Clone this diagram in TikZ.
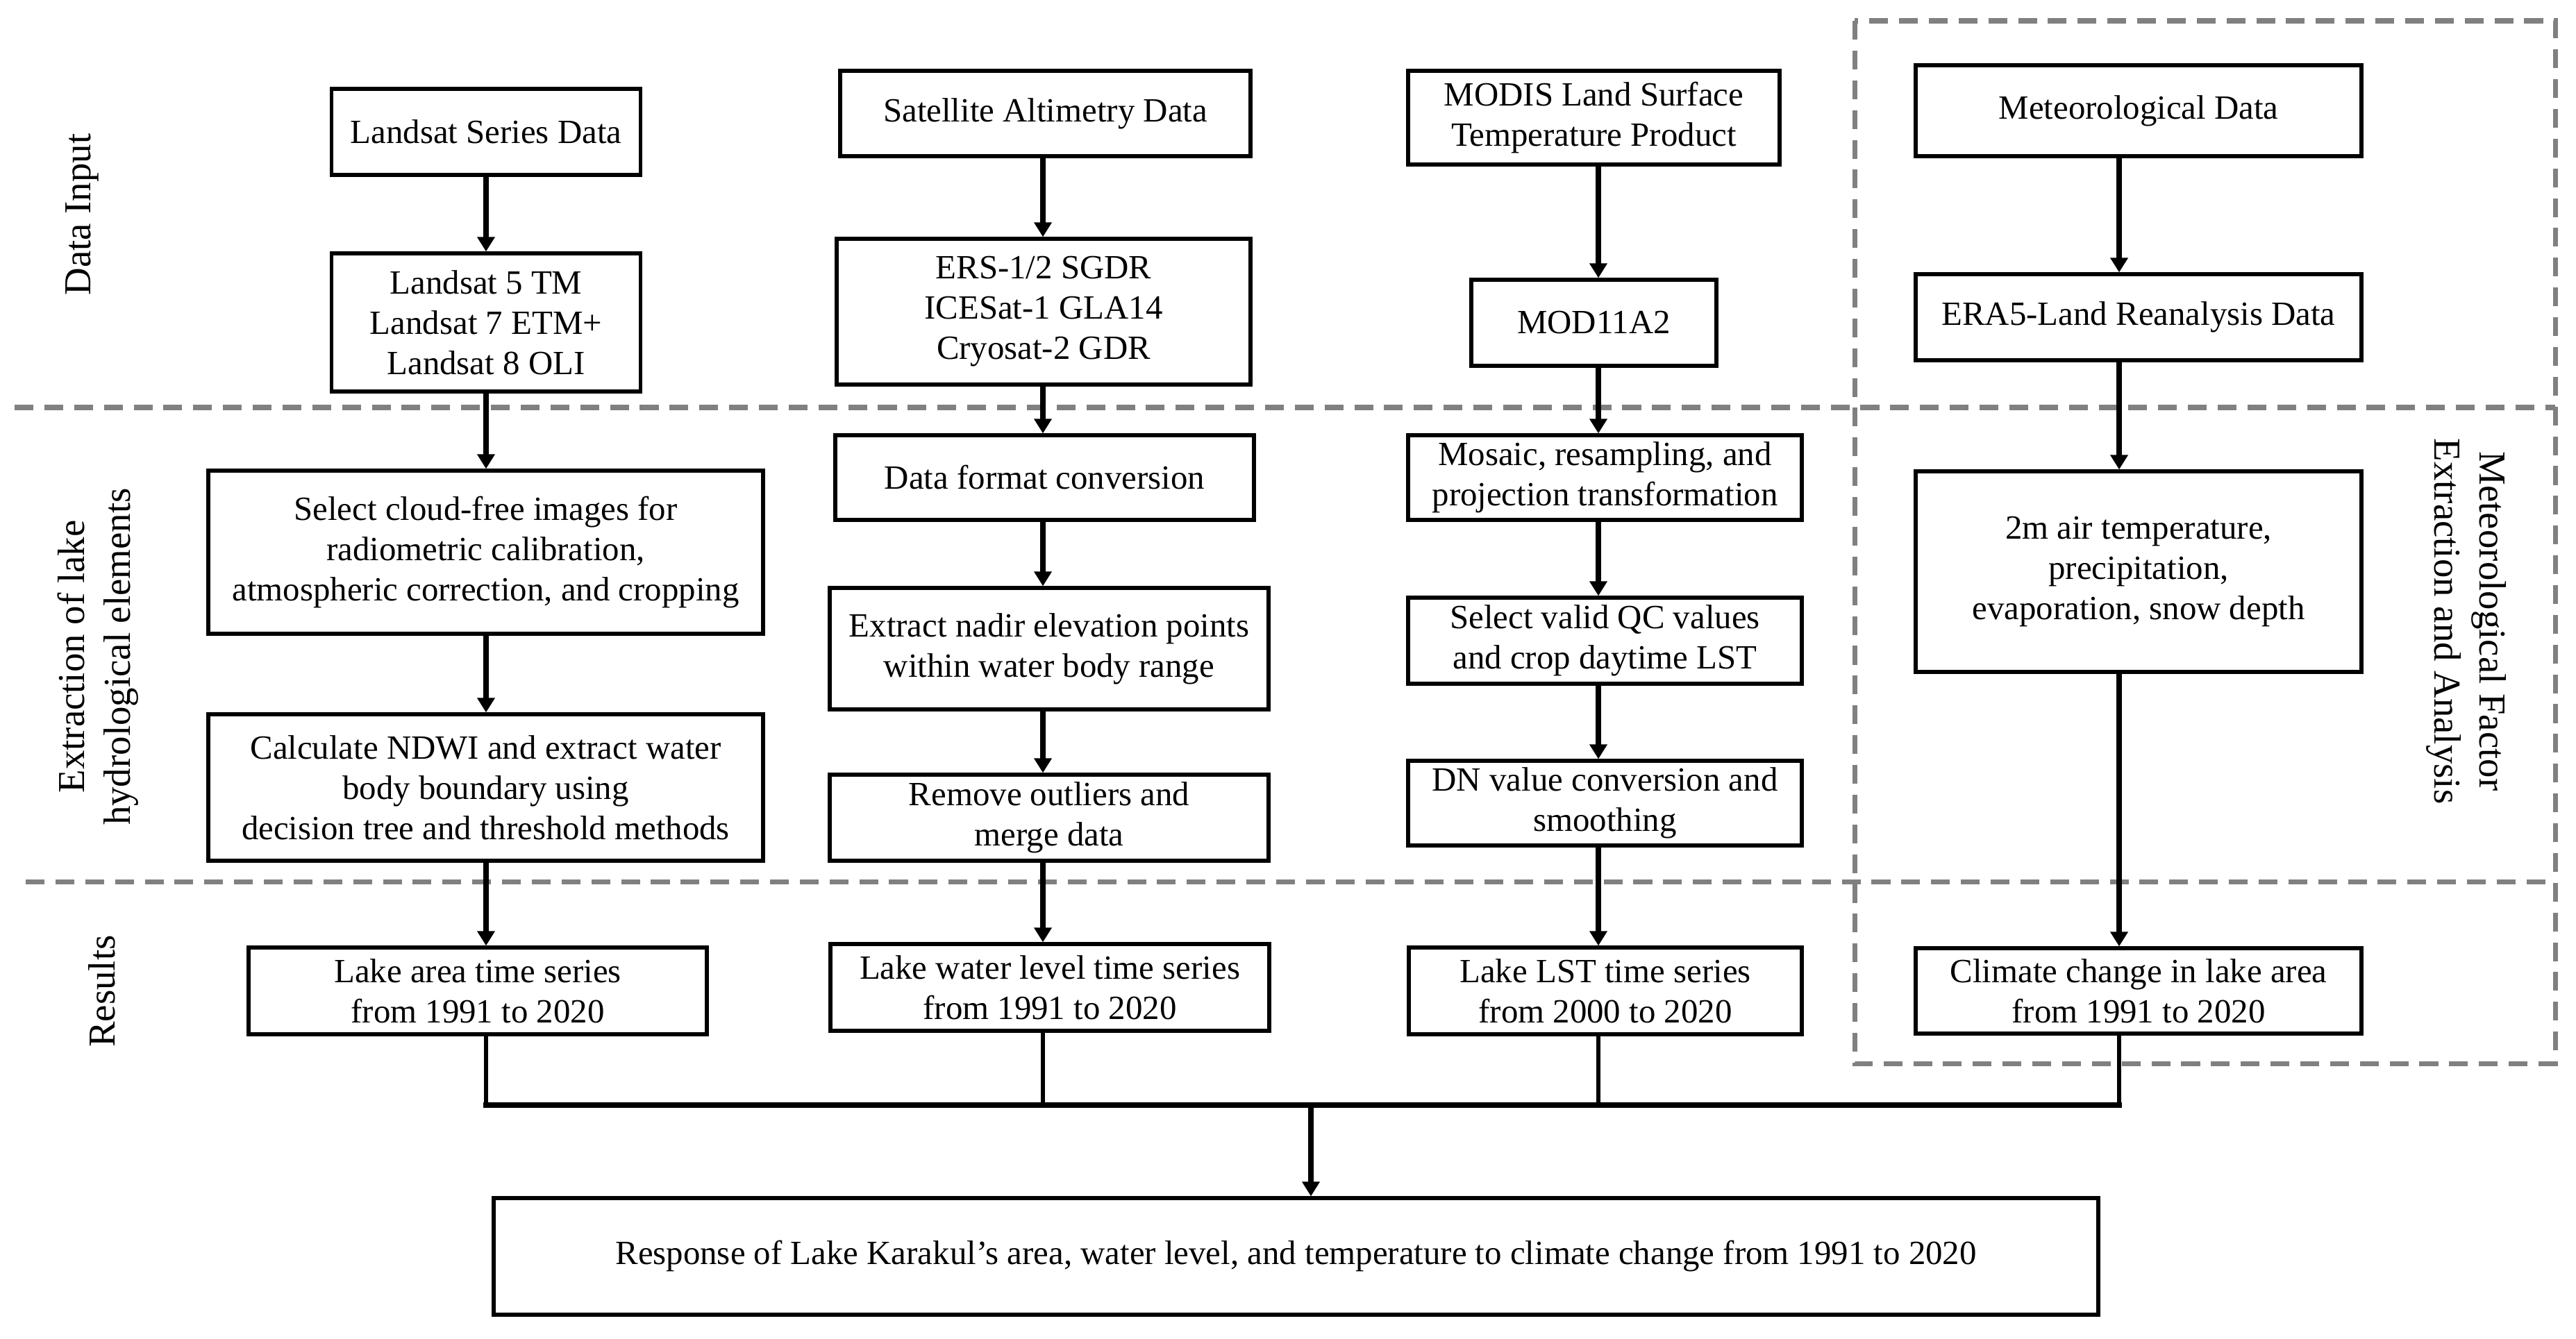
\documentclass[tikz,border=0pt]{standalone}
\usepackage{fontspec}
\setmainfont{Liberation Serif}
\usetikzlibrary{arrows.meta}
\definecolor{sepgray}{RGB}{128,128,128}
\begin{document}
\begin{tikzpicture}[
 box/.style={draw, line width=1.5pt, align=center, inner sep=2pt, font=\fontsize{13.9}{16.5}\selectfont},
 arr/.style={line width=2.1pt, -{Triangle[length=6pt,width=7pt]}},
 conn/.style={line width=1.8pt},
 bus/.style={line width=2.3pt},
 sep/.style={draw=sepgray, line width=2pt, dash pattern=on 7.7pt off 4.5pt},
 lab/.style={font=\fontsize{15.6}{18.7}\selectfont, align=center},
]
\useasboundingbox (0,0) rectangle (37.10,-19.28);
% separators
\draw[sep] (0.21,-5.87) -- (36.80,-5.87);
\draw[sep] (0.37,-12.70) -- (36.80,-12.70);
\draw[sep] (26.71,-0.30) rectangle (36.80,-15.32);
% column x of connectors
\coordinate (c1) at (7.00,0);
\coordinate (c2) at (15.02,0);
\coordinate (c3) at (23.02,0);
\coordinate (c4) at (30.52,0);
\coordinate (busy) at (0,-15.92);
\coordinate (bm) at (18.88,-15.92);
% labels
\node[lab, rotate=90] (lin) at (1.18,-3.09) {Data Input};
\node[lab, rotate=90] (lex) at (1.41,-9.46) {Extraction of lake\\hydrological elements};
\node[lab, rotate=90] (lre) at (1.47,-14.28) {Results};
\node[lab, rotate=-90] (lmet) at (35.52,-8.95) {Meteorological Factor\\Extraction and Analysis};
% column 1
\node[box, minimum width=4.45cm, minimum height=1.24cm] (ls) at (7.00,-1.90) {Landsat Series Data};
\node[box, minimum width=4.45cm, minimum height=1.99cm] (l5) at (7.00,-4.645) {Landsat 5 TM\\Landsat 7 ETM+\\Landsat 8 OLI};
\node[box, minimum width=7.99cm, minimum height=2.35cm] (sel) at (6.995,-7.955) {Select cloud-free images for\\radiometric calibration,\\atmospheric correction, and cropping};
\node[box, minimum width=7.99cm, minimum height=2.11cm] (ndwi) at (6.995,-11.345) {Calculate NDWI and extract water\\body boundary using\\decision tree and threshold methods};
\node[box, minimum width=6.60cm, minimum height=1.25cm] (area) at (6.88,-14.275) {Lake area time series\\from 1991 to 2020};
% column 2
\node[box, minimum width=5.91cm, minimum height=1.23cm] (sa) at (15.055,-1.635) {Satellite Altimetry Data};
\node[box, minimum width=5.96cm, minimum height=2.10cm] (ers) at (15.03,-4.49) {ERS-1/2 SGDR\\ICESat-1 GLA14\\Cryosat-2 GDR};
\node[box, minimum width=6.03cm, minimum height=1.22cm] (dfc) at (15.045,-6.88) {Data format conversion};
\node[box, minimum width=6.32cm, minimum height=1.75cm] (nadir) at (15.11,-9.345) {Extract nadir elevation points\\within water body range};
\node[box, minimum width=6.32cm, minimum height=1.24cm] (rem) at (15.11,-11.78) {Remove outliers and\\merge data};
\node[box, minimum width=6.32cm, minimum height=1.25cm] (wl) at (15.12,-14.225) {Lake water level time series\\from 1991 to 2020};
% column 3
\node[box, minimum width=5.35cm, minimum height=1.35cm] (modis) at (22.955,-1.695) {MODIS Land Surface\\Temperature Product};
\node[box, minimum width=3.53cm, minimum height=1.24cm] (mod) at (22.955,-4.65) {MOD11A2};
\node[box, minimum width=5.67cm, minimum height=1.22cm] (mosaic) at (23.115,-6.88) {Mosaic, resampling, and\\projection transformation};
\node[box, minimum width=5.67cm, minimum height=1.24cm] (qc) at (23.115,-9.23) {Select valid QC values\\and crop daytime LST};
\node[box, minimum width=5.67cm, minimum height=1.22cm] (dn) at (23.115,-11.57) {DN value conversion and\\smoothing};
\node[box, minimum width=5.66cm, minimum height=1.25cm] (lst) at (23.12,-14.275) {Lake LST time series\\from 2000 to 2020};
% column 4
\node[box, minimum width=6.42cm, minimum height=1.31cm] (met) at (30.80,-1.595) {Meteorological Data};
\node[box, minimum width=6.42cm, minimum height=1.24cm] (era) at (30.80,-4.57) {ERA5-Land Reanalysis Data};
\node[box, minimum width=6.42cm, minimum height=2.89cm] (air) at (30.80,-8.235) {2m air temperature,\\precipitation,\\evaporation, snow depth};
\node[box, minimum width=6.42cm, minimum height=1.23cm] (cc) at (30.80,-14.275) {Climate change in lake area\\from 1991 to 2020};
% final
\node[box, minimum width=23.11cm, minimum height=1.68cm] (resp) at (18.665,-18.10) {Response of Lake Karakul’s area, water level, and temperature to climate change from 1991 to 2020};
% arrows column 1
\draw[arr] (ls.south -| c1) -- (c1 |- l5.north);
\draw[arr] (l5.south -| c1) -- (c1 |- sel.north);
\draw[arr] (sel.south -| c1) -- (c1 |- ndwi.north);
\draw[arr] (ndwi.south -| c1) -- (c1 |- area.north);
% arrows column 2
\draw[arr] (sa.south -| c2) -- (c2 |- ers.north);
\draw[arr] (ers.south -| c2) -- (c2 |- dfc.north);
\draw[arr] (dfc.south -| c2) -- (c2 |- nadir.north);
\draw[arr] (nadir.south -| c2) -- (c2 |- rem.north);
\draw[arr] (rem.south -| c2) -- (c2 |- wl.north);
% arrows column 3
\draw[arr] (modis.south -| c3) -- (c3 |- mod.north);
\draw[arr] (mod.south -| c3) -- (c3 |- mosaic.north);
\draw[arr] (mosaic.south -| c3) -- (c3 |- qc.north);
\draw[arr] (qc.south -| c3) -- (c3 |- dn.north);
\draw[arr] (dn.south -| c3) -- (c3 |- lst.north);
% arrows column 4
\draw[arr] (met.south -| c4) -- (c4 |- era.north);
\draw[arr] (era.south -| c4) -- (c4 |- air.north);
\draw[arr] (air.south -| c4) -- (c4 |- cc.north);
% bus
\draw[conn] (area.south -| c1) -- (c1 |- busy);
\draw[conn] (wl.south -| c2) -- (c2 |- busy);
\draw[conn] (lst.south -| c3) -- (c3 |- busy);
\draw[conn] (cc.south -| c4) -- (c4 |- busy);
\draw[bus, line cap=rect] (c1 |- busy) -- (c4 |- busy);
\draw[arr] (bm) -- (bm |- resp.north);
\end{tikzpicture}
\end{document}
